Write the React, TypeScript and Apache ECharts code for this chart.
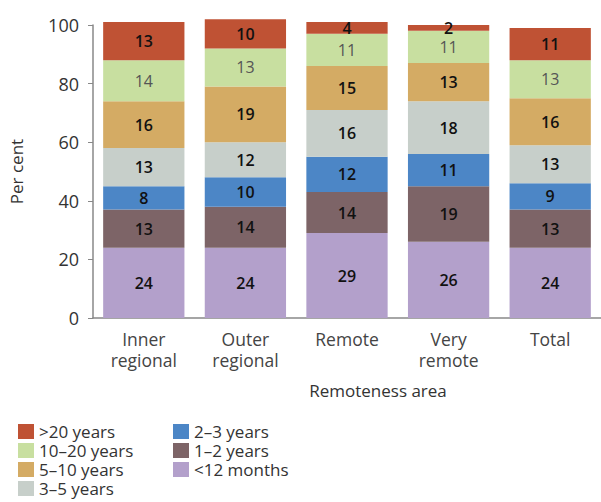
import React, { useEffect, useRef } from "react";
import * as echarts from "echarts";

const categories = ["Inner\nregional", "Outer\nregional", "Remote", "Very\nremote", "Total"];
const yTicks = [0, 20, 40, 60, 80, 100];
const under12Months = [24, 24, 29, 26, 24];
const oneToTwo = [13, 14, 14, 19, 13];
const twoToThree = [8, 10, 12, 11, 9];
const threeToFive = [13, 12, 16, 18, 13];
const fiveToTen = [16, 19, 15, 13, 16];
const tenToTwenty = [14, 13, 11, 11, 13];
const overTwenty = [13, 10, 4, 2, 11];

const seriesNames = ["<12 months", "1–2 years", "2–3 years", "3–5 years", "5–10 years", "10–20 years", ">20 years"];
const seriesData = [under12Months, oneToTwo, twoToThree, threeToFive, fiveToTen, tenToTwenty, overTwenty];
const seriesColors = ["#B3A0CB", "#7D6467", "#4C86C6", "#C7CFCA", "#D4AB64", "#C8DFA0", "#BF5234"];

const FONT = "'Open Sans', 'Noto Sans', sans-serif";

export default function App() {
  const ref = useRef<HTMLDivElement>(null);
  useEffect(() => {
    if (!ref.current) return;
    const chart = echarts.init(ref.current, null, { renderer: "svg" });
    const series = seriesNames.map((name, i) => ({
      name,
      type: "bar",
      stack: "all",
      clip: false,
      barCategoryGap: "20%",
      data: seriesData[i],
      itemStyle: { color: seriesColors[i] },
      label: {
        show: true,
        position: "inside",
        fontFamily: FONT,
        fontSize: 16,
        fontWeight: name === "10–20 years" ? "normal" : 600,
        color: name === "10–20 years" ? "#555" : "#111",
      },
    }));
    const legendCommon = {
      orient: "vertical",
      top: 418,
      height: 110,
      padding: 5,
      itemWidth: 16,
      itemHeight: 15,
      itemGap: 2,
      icon: "rect",
      textStyle: { fontFamily: FONT, fontSize: 17, color: "#333" },
    };
    chart.setOption({
      animation: false,
      backgroundColor: "#fff",
      grid: { left: 92, top: 25, width: 519, height: 293 },
      xAxis: {
        type: "category",
        data: categories,
        axisLine: { lineStyle: { color: "#888", width: 1.5 } },
        axisTick: { show: false },
        axisLabel: {
          fontFamily: FONT,
          fontSize: 17.5,
          color: "#444",
          lineHeight: 21.5,
          margin: 10,
          interval: 0,
        },
      },
      yAxis: {
        type: "value",
        min: yTicks[0],
        max: yTicks[yTicks.length - 1],
        interval: 20,
        name: "Per cent",
        nameLocation: "middle",
        nameGap: 68,
        nameTextStyle: { fontFamily: FONT, fontSize: 17, color: "#333" },
        splitLine: { show: false },
        axisLine: { show: true, lineStyle: { color: "#888", width: 1.5 } },
        axisTick: { show: true, length: 5, lineStyle: { color: "#888" } },
        axisLabel: { fontFamily: FONT, fontSize: 18, color: "#333", margin: 14 },
      },
      legend: [
        {
          ...legendCommon,
          data: [">20 years", "10–20 years", "5–10 years", "3–5 years"],
          left: 13,
        },
        {
          ...legendCommon,
          data: ["2–3 years", "1–2 years", "<12 months"],
          left: 168,
        },
      ],
      graphic: [
        {
          type: "text",
          x: 378,
          y: 390,
          style: {
            text: "Remoteness area",
            font: `17px ${FONT}`,
            fill: "#333",
            textAlign: "center",
            textVerticalAlign: "middle",
          },
        },
      ],
      series,
    });
    return () => chart.dispose();
  }, []);
  return <div ref={ref} style={{ width: 601, height: 502, position: "absolute", left: 0, top: 0 }} />;
}
